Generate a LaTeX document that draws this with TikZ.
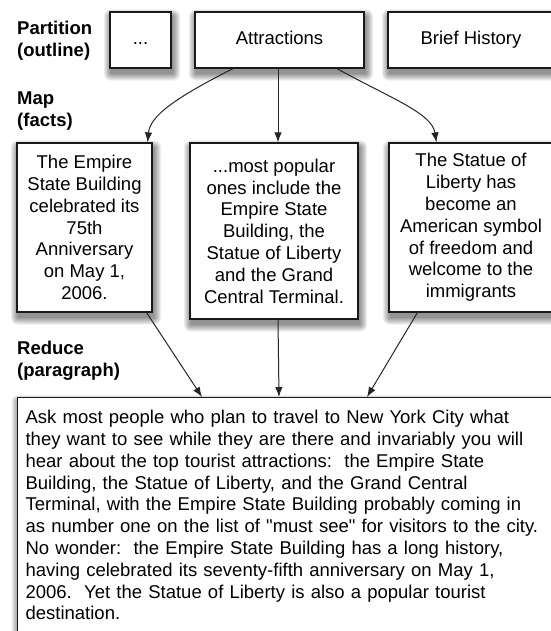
\documentclass[tikz,border=0pt]{standalone}
\usepackage{fontspec}
\setmainfont{Liberation Sans}
\usetikzlibrary{arrows.meta,backgrounds}
\begin{document}
\begin{tikzpicture}[x=1pt,y=-1pt,
  txt/.style={font=\fontsize{18.5}{21.8}\selectfont},
  box/.style={txt,draw=black!90,line width=1.2pt,fill=white,align=center,inner sep=0pt},
  lbl/.style={font=\fontsize{18.5}{21.8}\selectfont\bfseries,align=left,anchor=north west,inner sep=0pt},
  shadowpart/.style={fill=black,opacity=0.065},
  arr/.style={-{Latex[length=10pt,width=7.5pt]},line width=1pt,black!85}]
\useasboundingbox (0,0) rectangle (550,631);
% labels
\node[lbl] (lpart) at (17,20.8) {Partition\\(outline)};
\node[lbl] (lmap) at (17,91.8) {Map\\(facts)};
\node[lbl] (lred) at (17,340.6) {Reduce\\(paragraph)};
% top row
\node[box,minimum width=61pt,minimum height=56pt,text height=13.2pt,text depth=3.9pt] (dots) at (140.5,40) {...};
\node[box,minimum width=169pt,minimum height=56pt,text height=13.2pt,text depth=3.9pt] (attr) at (279.5,40) {Attractions};
\node[box,minimum width=166pt,minimum height=56pt,text height=13.2pt,text depth=3.9pt] (hist) at (471,40) {Brief History};
% facts
\node[box,minimum width=135pt,minimum height=169pt] (fleft) at (84.5,227.5)
  {The Empire\\State Building\\celebrated its\\75th\\Anniversary\\on May 1,\\2006.};
\node[box,minimum width=168pt,minimum height=176pt] (fmid) at (274,231)
  {...most popular\\ones include the\\Empire State\\Building, the\\Statue of Liberty\\and the Grand\\Central Terminal.};
\node[box,minimum width=164pt,minimum height=169pt] (fright) at (471,227.5)
  {The Statue of\\Liberty has\\become an\\American symbol\\of freedom and\\welcome to the\\immigrants};
% paragraph
\node[box,anchor=north west,align=left,text width=540pt,inner xsep=8pt,inner ysep=12.6pt] (para) at (17,397)
  {Ask most people who plan to travel to New York City what\\
they want to see while they are there and invariably you will\\
hear about the top tourist attractions:\ \ the Empire State\\
Building, the Statue of Liberty, and the Grand Central\\
Terminal, with the Empire State Building probably coming in\\
as number one on the list of \textquotedbl must see\textquotedbl{} for visitors to the city.\\
No wonder:\ \ the Empire State Building has a long history,\\
having celebrated its seventy-fifth anniversary on May 1,\\
2006.\ \ Yet the Statue of Liberty is also a popular tourist\\
destination.};
% soft drop shadows
\begin{scope}[on background layer]
\foreach \n in {dots,attr,hist,fleft,fmid,fright,para}{
  \foreach \k in {0,1,...,7}{
    \fill[shadowpart,rounded corners=\k pt] ([shift={(1.5-\k,5+\k)}]\n.south west) rectangle ([shift={(1.5+\k,5-\k)}]\n.north east);
  }
}
\end{scope}
% arrows partition -> map
\draw[arr] ([xshift=-46.5pt]attr.south) .. controls (175,98) and (150,116) .. ([xshift=-5pt]fleft.north east);
\draw[arr] ([xshift=-1.5pt]attr.south) -- ([xshift=-1.5pt]attr.south |- fmid.north);
\draw[arr] ([xshift=57.5pt]attr.south) .. controls (390,98) and (432,113) .. ([xshift=48pt]fright.north west);
% arrows map -> reduce
\draw[arr] ([xshift=-6pt]fleft.south east) -- ([xshift=185pt]para.north west);
\draw[arr] ([xshift=4pt]fmid.south) -- ([xshift=262pt]para.north west);
\draw[arr] ([xshift=29pt]fright.south west) -- ([xshift=350pt]para.north west);
\end{tikzpicture}
\end{document}
